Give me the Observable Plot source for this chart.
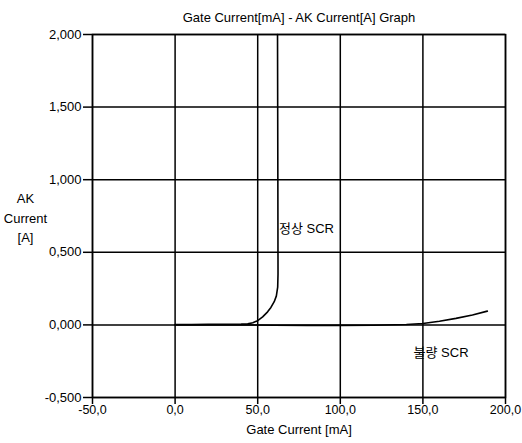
<!DOCTYPE html>
<html><head><meta charset="utf-8">
<script src="https://cdn.jsdelivr.net/npm/d3@7"></script>
<script src="https://cdn.jsdelivr.net/npm/@observablehq/plot@0.6"></script>
<style>body{margin:0;background:#fff}</style>
</head><body><div id="chart"></div>
<script>
const title = "Gate Current[mA] - AK Current[A] Graph";
const xLabel = "Gate Current [mA]";
const yLabel = "AK\nCurrent\n[A]";
const xTicks = [-50, 0, 50, 100, 150, 200];
const yTicks = [-0.5, 0, 0.5, 1.0, 1.5, 2.0];
const normalName = "정상 SCR";
const faultyName = "불량 SCR";
const normalX = [0, 10, 20, 30, 40, 44, 47, 50, 53, 56, 58, 60, 61.3, 62.1, 62.3, 62.2, 62.0];
const normalY = [0.003, 0.003, 0.004, 0.004, 0.005, 0.007, 0.015, 0.029, 0.055, 0.09, 0.12, 0.16, 0.2, 0.26, 0.35, 1.0, 2.0];
const faultyX = [0, 20, 40, 60, 80, 100, 120, 140, 150, 160, 170, 180, 189];
const faultyY = [0.0, 0.0, 0.0, -0.002, -0.003, -0.003, -0.002, 0.003, 0.01, 0.025, 0.045, 0.068, 0.095];

const normal = normalX.map((x, i) => ({x, y: normalY[i]}));
const faulty = faultyX.map((x, i) => ({x, y: faultyY[i]}));
const fmtY = d => d3.format(".3f")(d).replace("−", "-").replace(".", ",");
const fmtX = d => d3.format(".1f")(d).replace("−", "-").replace(".", ",");
const font = "Liberation Sans, Noto Sans CJK KR, sans-serif";

const chart = Plot.plot({
  width: 522, height: 443,
  marginLeft: 92, marginRight: 17, marginTop: 34, marginBottom: 46,
  style: {fontFamily: font, fontSize: "13px", color: "#000", background: "#fff"},
  x: {domain: [-50, 200]},
  y: {domain: [-0.5, 2.0]},
  marks: [
    Plot.gridX(xTicks, {stroke: "#000", strokeOpacity: 1, strokeWidth: 1.5}),
    Plot.gridY(yTicks, {stroke: "#000", strokeOpacity: 1, strokeWidth: 1.5}),
    Plot.frame({stroke: "#000", strokeWidth: 1.5}),
    Plot.axisX({ticks: xTicks, tickFormat: fmtX, tickSize: 7, tickPadding: 1, label: null, fontSize: 12.5, fontFamily: font, strokeWidth: 1.5}),
    Plot.axisY({ticks: yTicks, tickFormat: fmtY, tickSize: 9, tickPadding: 2, label: null, fontSize: 13, fontFamily: font, strokeWidth: 1.5}),
    Plot.line(normal, {x: "x", y: "y", stroke: "#000", strokeWidth: 1.6, curve: "linear"}),
    Plot.line(faulty, {x: "x", y: "y", stroke: "#000", strokeWidth: 1.6, curve: "linear"}),
    Plot.text([title], {frameAnchor: "top", dy: -22, text: d => d, fontSize: 13, fontFamily: font}),
    Plot.text([xLabel], {frameAnchor: "bottom", dy: 36, text: d => d, fontSize: 13, fontFamily: font}),
    Plot.text([yLabel], {x: -50, y: 0.745, dx: -67, text: d => d, fontSize: 13, fontFamily: font, lineHeight: 1.5}),
    Plot.text([normalName], {x: 79.5, y: 0.66, text: d => d, fontSize: 13, fontFamily: font}),
    Plot.text([faultyName], {x: 161, y: -0.19, text: d => d, fontSize: 13, fontFamily: font})
  ]
});
document.getElementById("chart").append(chart);
</script>
</body></html>
